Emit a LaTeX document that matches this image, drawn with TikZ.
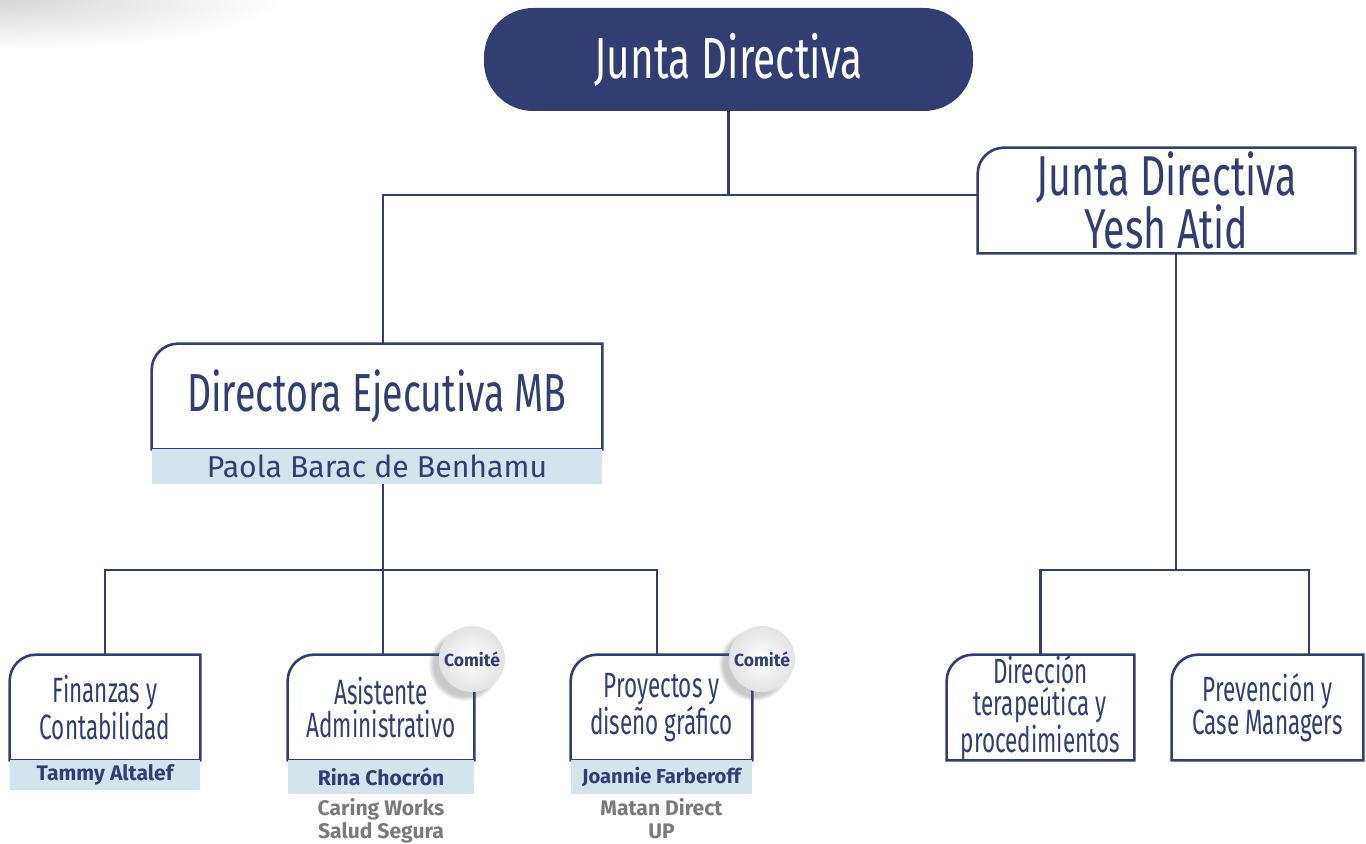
\documentclass[tikz,border=0pt]{standalone}
\usepackage{fontspec}
\setmainfont{Fira Sans}
\newfontfamily\condfont[FakeStretch=0.70]{Fira Sans}
\newfontfamily\narrowfont[FakeStretch=0.64]{Fira Sans}
\usetikzlibrary{positioning}
\usetikzlibrary{shadows}
\definecolor{navy}{HTML}{303E72}
\definecolor{bandblue}{HTML}{D3E5EC}
\definecolor{subgrey}{HTML}{7A7A7A}
\tikzset{
  link/.style={draw=navy, line width=1.5pt},
  unitbox/.style={draw=none, inner sep=0pt, align=center, text=navy},
  bandbox/.style={fill=bandblue, draw=none, inner sep=0pt, text=navy},
  pill/.style={fill=navy, draw=none, rounded corners=28pt, inner sep=0pt, text=white, font=\condfont},
  subtext/.style={inner sep=0pt, align=center, text=subgrey, font=\bfseries\fontsize{12}{13}\selectfont},
  comitecircle/.style={circle, inner sep=0pt, minimum size=1.32cm, inner color=white, outer color=gray!22,
    circular drop shadow={shadow xshift=-4pt, shadow yshift=-3pt, opacity=0.3, fill=black!70},
    text=navy, font=\bfseries\fontsize{10}{11}\selectfont}
}
\newcommand{\tsize}[2]{\fontsize{#1}{#2}\selectfont}
\newcommand{\orgunit}[7]{ \node[unitbox, font=#6, minimum width={(#4-#2)*0.02cm}, minimum height={(#5-#3)*0.02cm}] (#1) at ({(#2+#4)/2},{(#3+#5)/2}) {#7};
  \draw[link] (#1.south west) -- ([yshift=-15pt]#1.north west) arc[start angle=180, end angle=90, radius=15pt] -- (#1.north east) -- (#1.south east) -- cycle;}
\newcommand{\nameband}[6]{ \node[bandbox, minimum width={(#4-#2)*0.02cm}, minimum height={(#5-#3)*0.02cm}] (#1) at ({(#2+#4)/2},{(#3+#5)/2}) {#6};}
\newcommand{\comite}[3]{ \node[comitecircle] (#1) at ( #2 , #3 ) {Comité};}

\begin{document}
\begin{tikzpicture}[x=0.02cm, y=-0.02cm]
        \useasboundingbox (0,0) rectangle (1366,844);
        \clip (0,0) rectangle (1366,844);

        % corner shade
        \shade[inner color=gray!32, outer color=white] (0,0) ellipse [x radius=280, y radius=50];

        % top
        \node[pill, minimum width={489*0.02cm}, minimum height={103*0.02cm}] (junta) at (728.5,59.5) {\tsize{33}{33}Junta Directiva};

        % yesh atid
        \orgunit{yesh}{978}{148}{1355}{253}{\condfont\tsize{32}{26.5}}{Junta Directiva\\Yesh Atid}

        % directora
        \orgunit{dir}{152}{344}{602}{449}{\condfont\tsize{30.5}{30}}{Directora Ejecutiva MB}
        \nameband{paola}{152}{449}{602}{484}{\tsize{17.2}{18}Paola Barac de Benhamu}

        % row 2 left
        \orgunit{fin}{10}{655}{200}{760}{\narrowfont\tsize{20}{18.5}}{Finanzas y\\Contabilidad}
        \nameband{tammy}{10}{760}{200}{790}{\bfseries\tsize{12}{13}Tammy Altalef}

        \orgunit{asist}{288}{655}{474}{760}{\narrowfont\tsize{20}{18.5}}{Asistente\\Administrativo}
        \nameband{rina}{288}{760}{474}{794}{\bfseries\tsize{12}{13}Rina Chocrón}

        \orgunit{proy}{571}{655}{752}{760}{\narrowfont\tsize{20}{18.5}}{Proyectos y\\diseño gráfico}
        \nameband{joannie}{571}{760}{752}{794}{\bfseries\tsize{11.5}{13}Joannie Farberoff}

        % subtitles
        \node[subtext, below=2pt of rina] (caring) {Caring Works\\Salud Segura};
        \node[subtext, below=2pt of joannie] (matan) {Matan Direct\\UP};

        % row 2 right
        \orgunit{terap}{947}{655}{1134}{760}{\narrowfont\tsize{20}{18.2}}{Dirección\\terapeútica y\\procedimientos}
        \orgunit{prev}{1172}{655}{1363}{760}{\narrowfont\tsize{20}{18.5}}{Prevención y\\Case Managers}

        % comites
        \comite{com1}{472}{659}
        \comite{com2}{762}{659}

        % links top
        \coordinate (tbus) at (383,195);
        \draw[link] (junta.south) -- (junta.south |- tbus);
        \draw[link] (dir.north -| tbus) |- (yesh.west |- tbus);

        % links left
        \coordinate (lbus) at (383,570);
        \draw[link] (lbus |- paola.south) -- (lbus);
        \draw[link] (fin.north) |- (lbus);
        \draw[link] (asist.north -| lbus) -- (lbus);
        \draw[link] (proy.north -| 657,0) |- (lbus);

        % links right
        \coordinate (rbus) at (1176,570);
        \coordinate (rbusend) at (1309,570);
        \draw[link] (yesh.south -| rbus) -- (rbus);
        \draw[link] (terap.north) |- (rbusend) -- (rbusend |- prev.north);
\end{tikzpicture}
\end{document}
